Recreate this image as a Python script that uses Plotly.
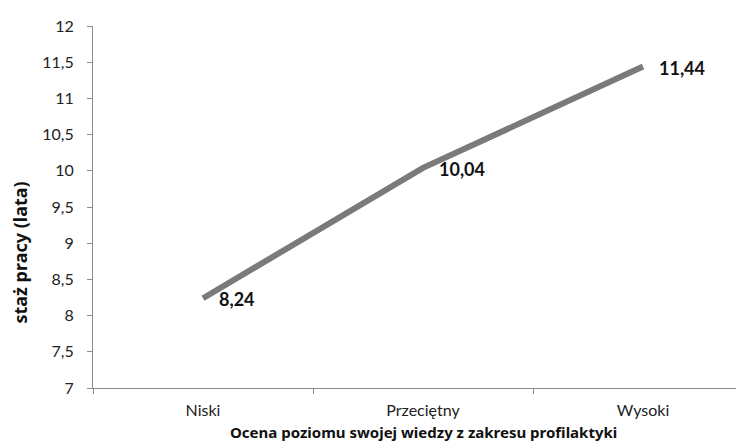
import plotly.graph_objects as go

categories = ["Niski", "Przeciętny", "Wysoki"]
values = [8.24, 10.04, 11.44]
y_ticks = [7, 7.5, 8, 8.5, 9, 9.5, 10, 10.5, 11, 11.5, 12]
y_tick_labels = [f"{v:g}".replace(".", ",") for v in y_ticks]
value_labels = [f"{v:.2f}".replace(".", ",") for v in values]

fig = go.Figure()
fig.add_trace(go.Scatter(
    x=categories, y=values, mode="lines",
    line=dict(color="#7a7a7a", width=6),
    hoverinfo="skip",
))

for c, v, t in zip(categories, values, value_labels):
    fig.add_annotation(x=c, y=v, text=f"<b>{t}</b>", showarrow=False,
                       xanchor="left", yanchor="middle", xshift=14, yshift=-1,
                       font=dict(family="Lato", size=18, color="#111"))

fig.add_annotation(x=1, y=0, xref="x", yref="paper",
                   text="<b>Ocena poziomu swojej wiedzy z zakresu profilaktyki</b>",
                   showarrow=False, xanchor="center", yanchor="middle", yshift=-44,
                   font=dict(family="Noto Sans", size=15, color="#111"))
fig.add_annotation(x=0, y=0.374, xref="paper", yref="paper", xshift=-73,
                   text="<b>staż pracy (lata)</b>", textangle=-90,
                   showarrow=False, xanchor="center", yanchor="middle",
                   font=dict(family="Noto Sans", size=18, color="#111"))

fig.update_layout(
    width=744, height=443,
    margin=dict(l=85, r=8, t=11, b=63),
    paper_bgcolor="white", plot_bgcolor="white",
    showlegend=False,
    xaxis=dict(
        type="category", range=[-0.5, 2.459],
        showline=True, linecolor="#8c8c8c", linewidth=1,
        ticks="outside", tickson="boundaries", ticklen=5, tickcolor="#8c8c8c",
        showgrid=False, zeroline=False,
        tickfont=dict(family="Lato", size=16, color="#222"),
        ticklabelstandoff=8,
    ),
    yaxis=dict(
        range=[7, 12], tickvals=y_ticks, ticktext=y_tick_labels,
        showline=True, linecolor="#8c8c8c", linewidth=1,
        ticks="outside", ticklen=5, tickcolor="#8c8c8c",
        showgrid=False, zeroline=False,
        tickfont=dict(family="Lato", size=16, color="#222"),
        ticklabelstandoff=10,
    ),
)

fig.write_html("out.html")
